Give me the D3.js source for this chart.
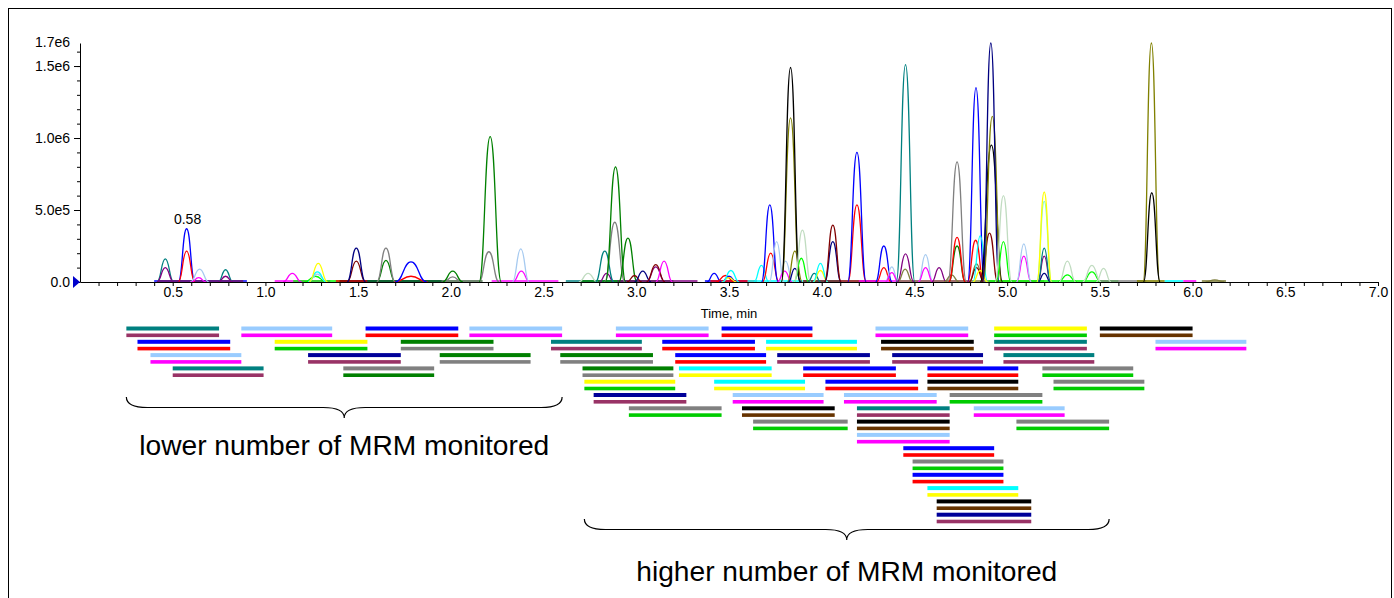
<!DOCTYPE html>
<html>
<head>
<meta charset="utf-8">
<script src="https://cdn.jsdelivr.net/npm/d3@7"></script>
<style>
body { margin: 0; background: #fff; }
#chart svg { display: block; font-family: "Liberation Sans", Arial, sans-serif; }
</style>
</head>
<body>
<div id="chart"></div>
<script>
// Axis tick labels
const timeLabels = ["0.5", "1.0", "1.5", "2.0", "2.5", "3.0", "3.5", "4.0", "4.5", "5.0", "5.5", "6.0", "6.5", "7.0"];
const intensityValues = [0, 5e5, 1e6, 1.5e6];
const intensityLabels = ["0.0", "5.0e5", "1.0e6", "1.5e6"];
const intensityTop = 1.66e6;
const intensityTopLabel = "1.7e6";

// Chromatogram peaks: [colour, apex time (min), height (cps), half width at base (min)]
const peaks = [
    ["teal", 0.46, 1.6e5, 0.045], ["purple", 0.46, 1.0e5, 0.045],
    ["blue", 0.575, 3.7e5, 0.045], ["red", 0.575, 2.15e5, 0.045],
    ["skyC", 0.645, 0.9e5, 0.05], ["magenta", 0.64, 0.3e5, 0.04],
    ["teal", 0.785, 0.85e5, 0.04], ["purple", 0.785, 0.4e5, 0.04],
    ["magenta", 1.145, 0.6e5, 0.05], ["limeC", 1.27, 0.4e5, 0.06],
    ["skyC", 1.28, 0.55e5, 0.05], ["cyan", 1.28, 0.7e5, 0.05], ["yellow", 1.285, 1.3e5, 0.05],
    ["darkred", 1.49, 1.45e5, 0.05], ["navyC", 1.49, 2.35e5, 0.05],
    ["green", 1.65, 1.5e5, 0.05], ["gray", 1.65, 2.35e5, 0.05],
    ["red", 1.785, 0.4e5, 0.09], ["blue", 1.785, 1.4e5, 0.085],
    ["gray", 2.01, 0.35e5, 0.05], ["green", 2.01, 0.75e5, 0.055],
    ["gray", 2.205, 2.1e5, 0.055], ["green", 2.212, 10.1e5, 0.06],
    ["magenta", 2.38, 0.75e5, 0.045], ["skyC", 2.377, 2.3e5, 0.045],
    ["pale", 2.74, 0.6e5, 0.05], ["purple", 2.84, 0.6e5, 0.04], ["teal", 2.83, 2.15e5, 0.05],
    ["gray", 2.884, 4.15e5, 0.055], ["green", 2.888, 8.0e5, 0.055], ["green", 2.955, 3.05e5, 0.05],
    ["darkred", 2.99, 0.45e5, 0.04], ["navyC", 3.035, 0.75e5, 0.045],
    ["purple", 3.105, 1.05e5, 0.05], ["darkred", 3.105, 1.2e5, 0.05], ["magenta", 3.15, 1.45e5, 0.045],
    ["blue", 3.42, 0.6e5, 0.04], ["red", 3.48, 0.45e5, 0.05], ["blue", 3.50, 0.4e5, 0.04],
    ["yellow", 3.50, 0.3e5, 0.04], ["cyan", 3.51, 0.8e5, 0.045],
    ["cyan", 3.675, 1.15e5, 0.04], ["red", 3.725, 2.0e5, 0.045], ["blue", 3.72, 5.35e5, 0.045],
    ["skyC", 3.757, 2.8e5, 0.04], ["skyC", 3.805, 1.45e5, 0.04], ["magenta", 3.80, 0.75e5, 0.04],
    ["olive", 3.832, 11.4e5, 0.05], ["olive", 3.855, 2.15e5, 0.04], ["navyC", 3.855, 0.95e5, 0.035],
    ["black", 3.832, 14.9e5, 0.05], ["limeC", 3.89, 1.65e5, 0.04], ["pale", 3.896, 3.6e5, 0.045],
    ["teal", 3.96, 0.6e5, 0.035], ["yellow", 3.993, 0.8e5, 0.04], ["cyan", 3.993, 1.3e5, 0.04],
    ["navyC", 4.06, 2.8e5, 0.045], ["darkred", 4.06, 3.95e5, 0.045],
    ["red", 4.19, 5.35e5, 0.05], ["blue", 4.19, 9.0e5, 0.05],
    ["red", 4.335, 1.0e5, 0.04], ["blue", 4.335, 2.5e5, 0.045],
    ["skyC", 4.378, 1.05e5, 0.035], ["magenta", 4.378, 0.65e5, 0.035],
    ["khaki", 4.45, 0.9e5, 0.04], ["purple", 4.452, 1.95e5, 0.045], ["teal", 4.452, 15.1e5, 0.05],
    ["skyC", 4.56, 1.9e5, 0.04], ["magenta", 4.56, 1.0e5, 0.04], ["purple", 4.633, 1.0e5, 0.04],
    ["khaki", 4.70, 0.5e5, 0.04], ["gray", 4.73, 8.35e5, 0.05], ["green", 4.73, 2.5e5, 0.045],
    ["red", 4.73, 3.1e5, 0.045], ["khaki", 4.835, 1.25e5, 0.04], ["darkred", 4.835, 1.0e5, 0.04],
    ["red", 4.83, 2.9e5, 0.045], ["blue", 4.832, 13.5e5, 0.045],
    ["cyan", 4.855, 3.2e5, 0.04], ["yellow", 4.855, 0.8e5, 0.04],
    ["darkred", 4.905, 3.4e5, 0.045], ["black", 4.915, 9.5e5, 0.06],
    ["olive", 4.92, 11.5e5, 0.05], ["navyC", 4.912, 16.6e5, 0.045],
    ["limeC", 4.98, 2.8e5, 0.04], ["pale", 4.98, 6.0e5, 0.045],
    ["magenta", 5.09, 1.8e5, 0.04], ["skyC", 5.09, 2.65e5, 0.04],
    ["navyC", 5.2, 0.6e5, 0.035], ["purple", 5.2, 1.8e5, 0.035], ["teal", 5.2, 2.35e5, 0.035],
    ["mint", 5.2, 5.6e5, 0.04], ["yellow", 5.2, 6.25e5, 0.04],
    ["limeC", 5.325, 0.5e5, 0.05], ["pale", 5.325, 1.45e5, 0.045],
    ["limeC", 5.457, 0.7e5, 0.05], ["pale", 5.457, 1.15e5, 0.05], ["pale", 5.52, 0.95e5, 0.04],
    ["olive", 5.778, 16.6e5, 0.045], ["black", 5.78, 6.2e5, 0.045],
    ["khaki", 6.12, 0.15e5, 0.05]
];

// Flat baseline stretches of the traces: [colour, start, end]
const baselines = [
    ["blue", 0.40, 0.90], ["teal", 0.42, 0.88], ["purple", 0.42, 0.88],
    ["magenta", 1.05, 1.35], ["limeC", 1.15, 1.45], ["red", 1.38, 1.98], ["darkred", 1.40, 1.60],
    ["blue", 1.55, 1.97], ["green", 1.55, 2.17], ["gray", 1.95, 2.17],
    ["magenta", 2.22, 2.58],
    ["teal", 2.62, 3.00], ["green", 2.70, 3.20], ["purple", 2.90, 3.33],
    ["blue", 3.37, 3.60], ["red", 3.40, 3.65], ["cyan", 3.60, 4.10], ["darkred", 3.90, 4.30],
    ["magenta", 4.20, 4.80], ["khaki", 4.40, 5.20], ["limeC", 4.90, 5.60], ["gray", 5.50, 5.75],
    ["olive", 5.70, 5.85], ["cyan", 5.85, 5.95], ["magenta", 5.95, 6.02], ["khaki", 6.05, 6.18]
];

// Scheduled MRM windows: [row, start (min), end (min), first transition, second transition]
const mrmWindows = [
    [0, 0.25, 0.75, "teal", "plum"], [0, 0.87, 1.36, "sky", "magenta"], [0, 1.54, 2.04, "blue", "red"],
    [0, 2.10, 2.60, "sky", "magenta"], [0, 2.89, 3.39, "sky", "magenta"], [0, 3.46, 3.95, "blue", "red"],
    [0, 4.29, 4.79, "sky", "magenta"], [0, 4.93, 5.43, "yellow", "lime"], [0, 5.50, 6.00, "black", "brown"],
    [1, 0.31, 0.81, "blue", "red"], [1, 1.05, 1.55, "yellow", "lime"], [1, 1.73, 2.23, "green", "gray"],
    [1, 2.54, 3.03, "teal", "plum"], [1, 3.14, 3.64, "blue", "red"], [1, 3.70, 4.19, "cyan", "yellow"],
    [1, 4.32, 4.82, "black", "brown"], [1, 4.93, 5.43, "teal", "plum"], [1, 5.80, 6.29, "sky", "magenta"],
    [2, 0.38, 0.87, "sky", "magenta"], [2, 1.23, 1.73, "navy", "plum"], [2, 1.94, 2.43, "green", "gray"],
    [2, 2.59, 3.09, "green", "gray"], [2, 3.21, 3.70, "blue", "red"], [2, 3.76, 4.26, "navy", "plum"],
    [2, 4.38, 4.87, "navy", "plum"], [2, 4.98, 5.47, "teal", "plum"],
    [3, 0.50, 0.99, "teal", "plum"], [3, 1.42, 1.91, "gray", "green"], [3, 2.71, 3.20, "green", "gray"],
    [3, 3.23, 3.73, "cyan", "yellow"], [3, 3.90, 4.40, "blue", "red"], [3, 4.57, 5.06, "blue", "red"],
    [3, 5.19, 5.68, "gray", "lime"],
    [4, 2.72, 3.21, "yellow", "lime"], [4, 3.42, 3.91, "cyan", "yellow"], [4, 4.02, 4.52, "blue", "red"],
    [4, 4.57, 5.06, "black", "brown"], [4, 5.25, 5.74, "gray", "lime"],
    [5, 2.77, 3.27, "navy", "plum"], [5, 3.52, 4.01, "sky", "magenta"], [5, 4.12, 4.62, "sky", "magenta"],
    [5, 4.69, 5.19, "gray", "lime"],
    [6, 2.96, 3.46, "gray", "lime"], [6, 3.57, 4.07, "black", "brown"], [6, 4.19, 4.69, "teal", "plum"],
    [6, 4.82, 5.31, "sky", "magenta"],
    [7, 3.63, 4.14, "gray", "lime"], [7, 4.19, 4.69, "black", "brown"], [7, 5.05, 5.55, "gray", "lime"],
    [8, 4.19, 4.69, "sky", "magenta"],
    [9, 4.44, 4.93, "blue", "red"],
    [10, 4.49, 4.98, "gray", "lime"],
    [11, 4.49, 4.98, "blue", "red"],
    [12, 4.57, 5.06, "cyan", "yellow"],
    [13, 4.62, 5.13, "black", "brown"],
    [14, 4.62, 5.13, "navy", "plum"]
];

// Annotated groups of windows: [from (min), to (min), label]
const groups = [
    [0.25, 2.60, "lower number of MRM monitored"],
    [2.72, 5.55, "higher number of MRM monitored"]
];

// Colours
const palette = {
    teal: "#008080", plum: "#993366", sky: "#99ccff", magenta: "#ff00ff", blue: "#0000ff",
    red: "#ff0000", yellow: "#ffff00", lime: "#00cc00", green: "#008000", gray: "#808080",
    navy: "#000099", black: "#000000", brown: "#663300", cyan: "#00ffff",
    purple: "#800080", skyC: "#a6caf0", limeC: "#00ff00", navyC: "#000080", darkred: "#800000",
    olive: "#808000", pale: "#c0dcc0", mint: "#80ffc8", khaki: "#808040"
};

const width = 1394;
const height = 598;

const svg = d3.select("#chart").append("svg")
    .attr("width", width)
    .attr("height", height);

// outer frame
svg.append("rect")
    .attr("x", 8.5).attr("y", 8.5)
    .attr("width", 1383).attr("height", 700)
    .attr("fill", "none").attr("stroke", "#000").attr("stroke-width", 1);

// Scales
const x = d3.scaleLinear().domain([0, 7]).range([80, 1378]);
const y = d3.scaleLinear().domain([0, intensityTop]).range([282, 43]);
const rowY = d3.scaleLinear().domain([0, 14]).range([326.5, 512.7]);

// Baselines first, then peaks on top
svg.append("g").selectAll("line")
    .data(baselines)
    .enter()
    .append("line")
    .attr("x1", d => x(d[1]))
    .attr("x2", d => x(d[2]))
    .attr("y1", y(0) - 1)
    .attr("y2", y(0) - 1)
    .attr("stroke", d => palette[d[0]])
    .attr("stroke-width", 1.6);

const peakLine = d3.line()
    .x(d => x(d[0]))
    .y(d => y(d[1]))
    .curve(d3.curveBumpX);

svg.append("g").selectAll("path")
    .data(peaks)
    .enter()
    .append("path")
    .attr("d", d => peakLine([[d[1] - d[3], 0], [d[1], d[2]], [d[1] + d[3], 0]]))
    .attr("fill", "none")
    .attr("stroke", d => palette[d[0]])
    .attr("stroke-width", 1.3);

// X axis
const xAxis = d3.axisBottom(x)
    .tickValues(d3.range(1, 71).map(i => i / 10))
    .tickSize(4)
    .tickSizeOuter(0)
    .tickFormat(d => {
        const k = timeLabels.indexOf(d.toFixed(1));
        return k >= 0 ? timeLabels[k] : "";
    });

const gx = svg.append("g")
    .attr("transform", `translate(0,${y(0)})`)
    .call(xAxis);
gx.select(".domain").attr("stroke", "#000");
gx.selectAll(".tick line").attr("stroke", "#000");
gx.selectAll(".tick text")
    .attr("font-size", 14)
    .attr("font-family", "Liberation Sans, Arial, sans-serif")
    .attr("fill", "#000")
    .attr("dy", "0.55em");

svg.append("text")
    .attr("x", (x(0) + x(7)) / 2)
    .attr("y", 318)
    .attr("text-anchor", "middle")
    .attr("font-size", 13)
    .text("Time, min");

// Y axis: minor ticks, then labelled ticks
const gyMinor = svg.append("g")
    .attr("transform", `translate(${x(0)},0)`)
    .call(d3.axisLeft(y)
        .tickValues(d3.range(1, 17).map(i => i * 1e5))
        .tickSize(3)
        .tickSizeOuter(0)
        .tickFormat(""));
gyMinor.select(".domain").attr("stroke", "#000");

const gy = svg.append("g")
    .attr("transform", `translate(${x(0)},0)`)
    .call(d3.axisLeft(y)
        .tickValues(intensityValues)
        .tickSize(6)
        .tickPadding(4)
        .tickFormat((d, i) => intensityLabels[i]));
gy.select(".domain").remove();
gy.selectAll(".tick text")
    .attr("font-size", 14)
    .attr("font-family", "Liberation Sans, Arial, sans-serif")
    .attr("fill", "#000");

svg.append("text")
    .attr("x", x(0) - 10)
    .attr("y", y(intensityTop))
    .attr("dy", "0.32em")
    .attr("text-anchor", "end")
    .attr("font-size", 14)
    .text(intensityTopLabel);

// blue marker on the zero line
svg.append("path")
    .attr("d", `M${x(0) - 7},${y(0) - 6}L${x(0)},${y(0)}L${x(0) - 7},${y(0) + 6}Z`)
    .attr("fill", "#0000cc");

// apex label of the first tall peak
const firstLabelled = peaks[2];
svg.append("text")
    .attr("x", x(0.58))
    .attr("y", y(firstLabelled[2]) - 5)
    .attr("text-anchor", "middle")
    .attr("font-size", 14)
    .text("0.58");

// MRM window bars (two transitions per compound)
const bars = svg.append("g");
mrmWindows.forEach(w => {
    [w[3], w[4]].forEach((c, j) => {
        bars.append("rect")
            .attr("x", x(w[1]))
            .attr("y", rowY(w[0]) + j * 7)
            .attr("width", x(w[2]) - x(w[1]))
            .attr("height", j === 0 ? 4 : 3.6)
            .attr("fill", palette[c]);
    });
});

// Curly braces with labels
function bracePath(x0, x1, y0, h) {
    const xm = (x0 + x1) / 2, ym = y0 + h * 0.5, r = h;
    return `M${x0},${y0} Q${x0},${ym} ${x0 + r},${ym} L${xm - r},${ym} Q${xm},${ym} ${xm},${y0 + h}` +
        ` Q${xm},${ym} ${xm + r},${ym} L${x1 - r},${ym} Q${x1},${ym} ${x1},${y0}`;
}

const braceTop = [397, 519];
const labelBase = [455, 581];
const labelWidth = [410, 421];

groups.forEach((g, i) => {
    svg.append("path")
        .attr("d", bracePath(x(g[0]), x(g[1]), braceTop[i], 21))
        .attr("fill", "none")
        .attr("stroke", "#000")
        .attr("stroke-width", 1.2);

    svg.append("text")
        .attr("x", (x(g[0]) + x(g[1])) / 2)
        .attr("y", labelBase[i])
        .attr("text-anchor", "middle")
        .attr("font-size", 28)
        .attr("textLength", labelWidth[i])
        .attr("lengthAdjust", "spacingAndGlyphs")
        .text(g[2]);
});
</script>
</body>
</html>
